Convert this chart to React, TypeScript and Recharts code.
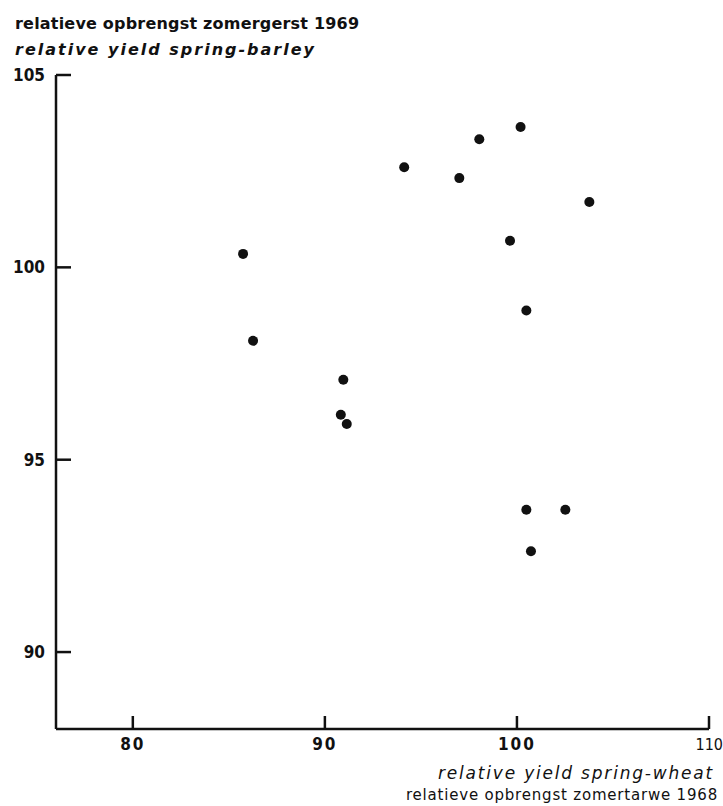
import { ScatterChart, Scatter, XAxis, YAxis } from "recharts";

// relative yield spring-wheat 1968 (x) vs spring-barley 1969 (y)
const wheat1968 = [
  85.74, 86.26, 90.96, 90.83, 91.14, 94.13, 98.04, 100.19, 97.0, 103.77, 99.64,
  100.49, 100.49, 102.52, 100.73,
];
const barley1969 = [
  100.35, 98.09, 97.08, 96.17, 95.93, 102.6, 103.33, 103.65, 102.32, 101.7,
  100.69, 98.88, 93.7, 93.7, 92.62,
];
const xTicks = [80, 90, 100, 110];
const yTicks = [90, 95, 100, 105];

const points = wheat1968.map((x, i) => ({ x, y: barley1969[i] }));

const ink = "#111";
const tickFont = "'DejaVu Sans Condensed', 'Liberation Sans Narrow', 'DejaVu Sans', sans-serif";

function YTick({ x, y, payload }: any) {
  return (
    <g>
      <line x1={x} x2={x + 15} y1={y} y2={y} stroke={ink} strokeWidth={2.5} />
      <text
        x={x - 11}
        y={y}
        textAnchor="end"
        dominantBaseline="central"
        fontFamily={tickFont}
        fontWeight="bold"
        fontSize={17}
        fill={ink}
      >
        {payload.value}
      </text>
    </g>
  );
}

function XTick({ x, y, payload }: any) {
  // last label is squeezed against the right edge, as in the original
  const last = payload.value === 110;
  return (
    <g>
      <line x1={x} x2={x} y1={y} y2={y - 13} stroke={ink} strokeWidth={2.5} />
      <text
        x={last ? 723 : x}
        y={y + 15}
        textAnchor={last ? "end" : "middle"}
        dominantBaseline="central"
        fontFamily={tickFont}
        fontWeight="normal"
        fontSize={last ? 16 : 17}
        letterSpacing={last ? 0 : 2}
        style={{ fontWeight: last ? 400 : 700 }}
        fill={ink}
      >
        {payload.value}
      </text>
    </g>
  );
}

const textStyle = {
  position: "absolute" as const,
  fontFamily: "'DejaVu Sans', sans-serif",
  fontSize: 16,
  color: ink,
  whiteSpace: "nowrap" as const,
  lineHeight: "20px",
};

export default function App() {
  return (
    <div style={{ position: "absolute", left: 0, top: 0, width: 723, height: 806, background: "#fff" }}>
      <ScatterChart width={723} height={806} margin={{ top: 75, right: 14, bottom: 0, left: 0 }}>
        <XAxis
          type="number"
          dataKey="x"
          domain={[76, 110]}
          ticks={xTicks}
          height={77}
          tick={<XTick />}
          tickSize={0}
          tickMargin={0}
          tickLine={false}
          axisLine={{ stroke: ink, strokeWidth: 2.5 }}
        />
        <YAxis
          type="number"
          dataKey="y"
          domain={[88, 105]}
          ticks={yTicks}
          width={56}
          tick={<YTick />}
          tickSize={0}
          tickMargin={0}
          tickLine={false}
          axisLine={{ stroke: ink, strokeWidth: 2.5 }}
        />
        <Scatter
          data={points}
          isAnimationActive={false}
          shape={(p: any) => <circle cx={p.cx} cy={p.cy} r={5} fill={ink} />}
        />
      </ScatterChart>
      <div style={{ ...textStyle, left: 15, top: 14, fontWeight: 600, letterSpacing: 0.2 }}>
        relatieve opbrengst zomergerst 1969
      </div>
      <div style={{ ...textStyle, left: 15, top: 40, fontStyle: "italic", fontWeight: 600, letterSpacing: 2 }}>
        relative yield spring-barley
      </div>
      <div style={{ ...textStyle, right: 9, top: 763, fontSize: 17, fontStyle: "italic", letterSpacing: 1.8 }}>
        relative yield spring-wheat
      </div>
      <div style={{ ...textStyle, right: 5, top: 785, fontSize: 15, letterSpacing: 0.8 }}>
        relatieve opbrengst zomertarwe 1968
      </div>
    </div>
  );
}
